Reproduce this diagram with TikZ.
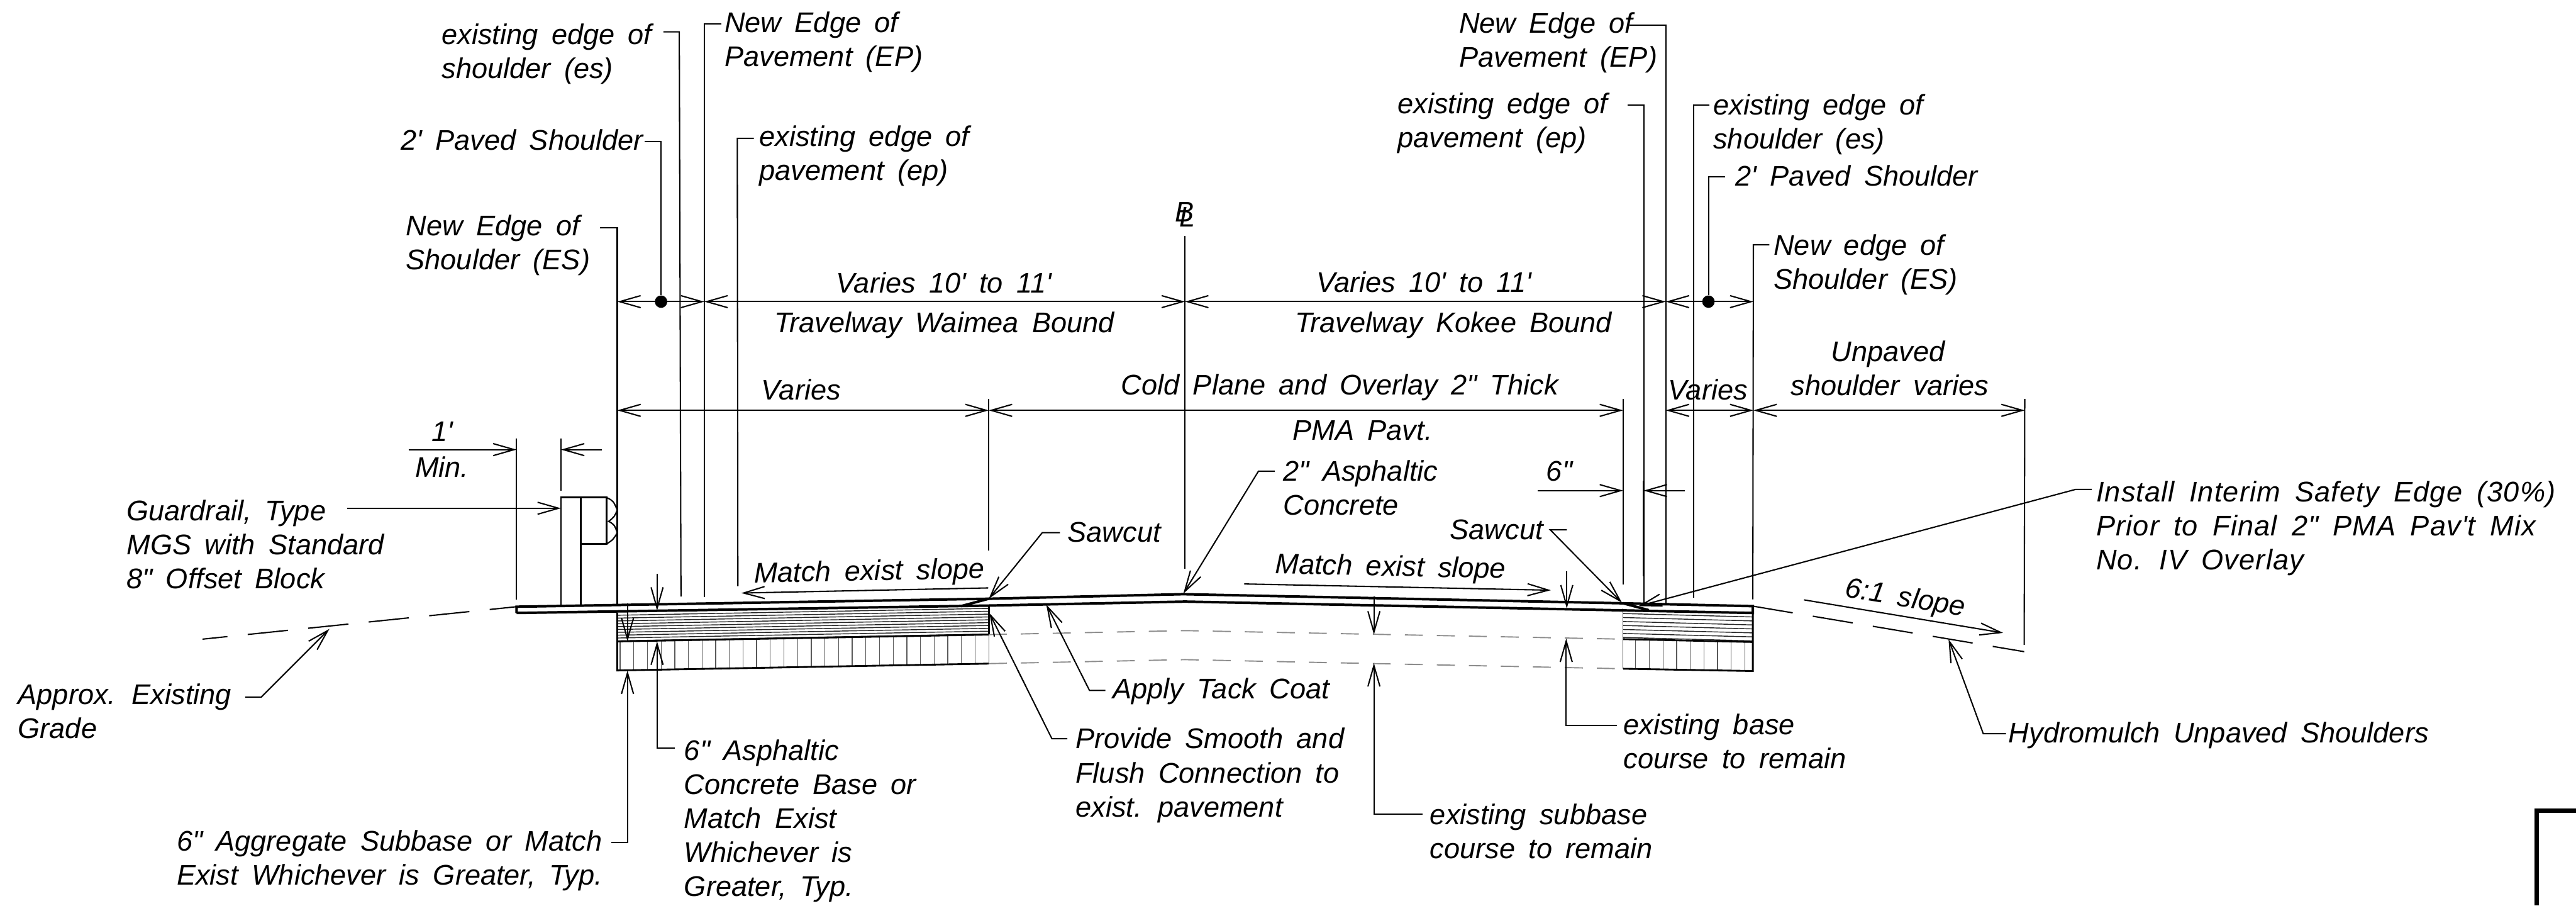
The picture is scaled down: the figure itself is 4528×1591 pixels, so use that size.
\documentclass[tikz,border=0pt]{standalone}
\usepackage{fontspec}
\usepackage{xcolor}
\usetikzlibrary{arrows.meta}
\newfontfamily\cadfont[WordSpace=1.7]{Liberation Sans}

\begin{document}
\begin{tikzpicture}[x=0.01cm,y=-0.01cm,>={Straight Barb[length=10.5pt,width=6pt]},
    note/.style={anchor=base west,align=left,inner sep=0pt,font=\cadfont\itshape\fontsize{14.2pt}{17pt}\selectfont},
    dimtext/.style={note,anchor=base,align=center},
    thin line/.style={line width=0.65pt},
    leader/.style={thin line,->},
    ext/.style={thin line},
    dimline/.style={thin line,<->},
    road/.style={line width=1.25pt},
    seam/.style={line width=0.9pt},
    grade/.style={line width=0.65pt,dash pattern=on 20.2pt off 10.2pt},
    oldline/.style={line width=0.6pt,black!45,dash pattern=on 9pt off 7pt},
    hatchline/.style={line width=0.4pt,black!65},
    layerline/.style={line width=0.45pt,black!85}]
    \useasboundingbox (0,0) rectangle (4528,1591);

    % points on the road and the dimension lines
    \foreach \name/\x/\y in {
        roadA/908/1066, sawL/1738/1052, crown/2080/1044, sawR/2853/1060, roadE/3081/1065,
        lowA/908/1077, lowB/1085/1076, lowC/1738/1064, lowD/2083/1057, lowE/2853/1069, lowF/3081/1077,
        cutL/1689/1065, cutR/2898/1072,
        baseA/1085/1127, baseB/1738/1115, baseC/2083/1108, baseD/2853/1123, baseE/3081/1128,
        subA/1085/1178, subB/1738/1166, subC/2083/1159, subD/2853/1175, subE/3081/1179,
        gradeL/356/1123, gradeR/3558/1145,
        dimA/1085/530, dimB/1238/530, dimC/2083/530, dimD/2928/530, dimE/3082/530,
        varA/1085/721, varB/1738/721, varC/2853/721, varD/2928/721, varE/3082/721, varF/3559/721,
        postA/986/874, postB/1021/874, postC/1021/1064, postD/986/1065, blockA/1066/874, blockB/1066/956, blockC/1021/956,
        minA/718/790, minB/908/790, minC/1058/790, minD/986/790,
        sixA/2703/862, sixB/2853/862, sixC/2961/862, sixD/2889/862} {
        \coordinate (\name) at (\x,\y);
    }

    % base and subbase, left and right of the overlay
    \foreach \k in {5,10,...,50} {
        \draw[layerline] (1085,1076+\k) -- (1738,1064+\k);
    }
    \foreach \k in {7,14,...,49} {
        \draw[layerline] (2853,1071+\k) -- (3081,1077+\k);
    }
    \foreach \x in {1090,1114,...,1738} {
        \draw[hatchline] (\x,{1127-(\x-1085)*12/653}) -- (\x,{1178-(\x-1085)*12/653});
    }
    \foreach \x in {2875,2899,...,3070} {
        \draw[hatchline] (\x,{1123+(\x-2853)*5/228}) -- (\x,{1175+(\x-2853)*4/228});
    }
    \draw[seam] (lowB) -- (subA) -- (subB);
    \draw[seam] (baseA) -- (baseB);
    \draw[seam] (lowC) -- (baseB);
    \draw[hatchline] (baseB) -- (subB);
    \draw[seam] (baseD) -- (baseE);
    \draw[seam] (subD) -- (subE) -- (roadE);
    \draw[hatchline] (lowE) -- (subD);
    \draw[oldline] (baseB) -- (baseC) -- (baseD);
    \draw[oldline] (subB) -- (subC) -- (subD);

    % road
    \draw[road] (lowA) -- (roadA) -- (sawL) -- (crown) -- (sawR) -- (roadE) -- (lowF) -- (lowD) -- (lowC) -- (lowA);
    \draw[road] (sawL) -- (cutL);
    \draw[road] (sawR) -- (cutR);
    \draw[grade,dash phase=7.7pt] (gradeL) -- (roadA);
    \draw[grade] (roadE) -- (gradeR);

    % guardrail
    \draw[seam] (postD) -- (postA) -- (blockA) -- (blockB) -- (blockC);
    \draw[seam] (postB) -- (postC);
    \draw[thin line] (blockA) .. controls (1078,880) .. (1085,896) .. controls (1080,908) .. (1070,916) .. controls (1080,922) .. (1085,936) .. controls (1078,948) .. (blockB);

    % extension lines
    \foreach \a/\b/\c/\d in {908/771/908/1053, 986/771/986/862, 2083/414/2083/999, 1738/701/1738/967,
        2853/701/2853/1027, 2889/845/2889/1013, 3559/701/3558/1133} {
        \draw[ext] (\a,\b) -- (\c,\d);
    }

    % dimensions
    \foreach \a/\b in {dimA/dimB, dimB/dimC, dimC/dimD, dimD/dimE, varA/varB, varB/varC, varD/varE, varE/varF} {
        \draw[dimline] (\a) -- (\b);
    }
    \draw[leader] (minA) -- (minB);
    \draw[leader] (minC) -- (minD);
    \draw[leader] (sixA) -- (sixB);
    \draw[leader] (sixC) -- (sixD);

    \node[circle,fill,inner sep=0pt,minimum size=6.2pt] (dotL) at (1162,530) {};
    \node[circle,fill,inner sep=0pt,minimum size=6.2pt] (dotR) at (3003,530) {};

    % notes: name, x, baseline of last line, text
    \foreach \name/\x/\y/\txt in {
        shoulderOldL/776/138/{existing edge of\\shoulder (es)},
        edgeNewL/1273/117/{New Edge of\\Pavement (EP)},
        pavedL/704/264/{2' Paved Shoulder},
        edgeOldL/1334/317/{existing edge of\\pavement (ep)},
        shoulderNewL/713/474/{New Edge of\\Shoulder (ES)},
        edgeNewR/2564/118/{New Edge of\\Pavement (EP)},
        edgeOldR/2456/259/{existing edge of\\pavement (ep)},
        shoulderOldR/3011/261/{existing edge of\\shoulder (es)},
        pavedR/3050/327/{2' Paved Shoulder},
        shoulderNewR/3117/508/{New edge of\\Shoulder (ES)},
        rail/222/1034/{Guardrail, Type\\MGS with Standard\\8" Offset Block},
        approx/31/1297/{Approx. Existing\\Grade},
        subbase/310/1555/{6" Aggregate Subbase or Match\\Exist Whichever is Greater, Typ.},
        basecourse/1202/1575/{6" Asphaltic\\Concrete Base or\\Match Exist\\Whichever is\\Greater, Typ.},
        sawcutL/1876/952/{Sawcut},
        sawcutR/2548/948/{Sawcut},
        tack/1955/1228/{Apply Tack Coat},
        flush/1890/1435/{Provide Smooth and\\Flush Connection to\\exist. pavement},
        overlay/2255/905/{2" Asphaltic\\Concrete},
        hydro/3530/1305/{Hydromulch Unpaved Shoulders},
        oldbase/2853/1350/{existing base\\course to remain},
        oldsub/2513/1508/{existing subbase\\course to remain}} {
        \node[note] (\name) at (\x,\y) {\txt};
    }
    \node[note,font=\cadfont\itshape\addfontfeature{LetterSpace=2.5}\fontsize{14.2pt}{17pt}\selectfont] (safety) at (3684,1001) {Install Interim Safety Edge (30\%)\\Prior to Final 2" PMA Pav't Mix\\No. IV Overlay};
    \foreach \name/\x/\y/\txt in {
        lanetopL/1659/515/{Varies 10' to 11'},
        lanebotL/1660/584/{Travelway Waimea Bound},
        lanetopR/2503/513/{Varies 10' to 11'},
        lanebotR/2555/584/{Travelway Kokee Bound},
        variesL/1408/703/{Varies},
        cold/2355/694/{Cold Plane and Overlay 2" Thick},
        pma/2395/773/{PMA Pavt.},
        variesR/3002/703/{Varies},
        unpaved/3319/635/{Unpaved},
        unpavedb/3322/695/{shoulder varies},
        onefoot/777/775/{1'},
        minimum/777/838/{Min.},
        sixinch/2741/845/{6"},
        centre/2087/398/{\rlap{\kern-2.3pt\raisebox{2.3pt}{B}}L}} {
        \node[dimtext] (\name) at (\x,\y) {\txt};
    }
    \node[dimtext,rotate=1.1] (slopeL) at (1528,1020) {Match exist slope};
    \node[dimtext,rotate=-1.2] (slopeR) at (2444,1012) {Match exist slope};
    \node[dimtext,rotate=-9.4] (sixone) at (3347,1066) {6:1 slope};

    % leaders: from stub over knee
    \foreach \a/\b/\c/\d/\e/\f in {
        1055/400/1085/400/1085/1063, 1166/56/1194/56/1197/1048, 1268/42/1238/42/1238/1049,
        1325/243/1296/243/1297/1030, 2861/185/2890/185/2890/1060, 2864/44/2928/44/2928/1060,
        3005/185/2977/185/2977/1050, 3110/430/3082/430/3081/1053} {
        \draw[ext] (\a,\b) -- (\c,\d) -- (\e,\f);
    }
    \draw[ext] (1133,249) -- (1162,249) -- (dotL);
    \draw[ext] (3032,311) -- (3003,311) -- (dotR);

    \foreach \a/\b/\c/\d/\e/\f in {
        431/1225/459/1225/579/1105, 1075/1480/1103/1480/1103/1178, 1186/1314/1155/1314/1155/1127,
        1863/936/1832/936/1738/1052, 1943/1213/1915/1213/1839/1062, 1876/1298/1849/1298/1739/1077,
        2241/828/2212/828/2080/1043, 2754/931/2725/931/2851/1059, 3677/860/3648/860/2880/1065,
        3526/1289/3486/1289/3425/1123, 2842/1275/2753/1275/2753/1122, 2500/1430/2415/1430/2415/1165} {
        \draw[leader] (\a,\b) -- (\c,\d) -- (\e,\f);
    }
    \foreach \a/\b/\c/\d in {
        1103/1060/1103/1127, 1155/1008/1155/1073, 2754/1004/2754/1069, 2415/1048/2415/1115,
        610/893/986/893, 1737/1033/1303/1042, 2187/1026/2726/1037, 3171/1054/3521/1112} {
        \draw[leader] (\a,\b) -- (\c,\d);
    }

    \draw[line width=2.3pt] (4528,1424) -| (4459,1591);
\end{tikzpicture}
\end{document}
